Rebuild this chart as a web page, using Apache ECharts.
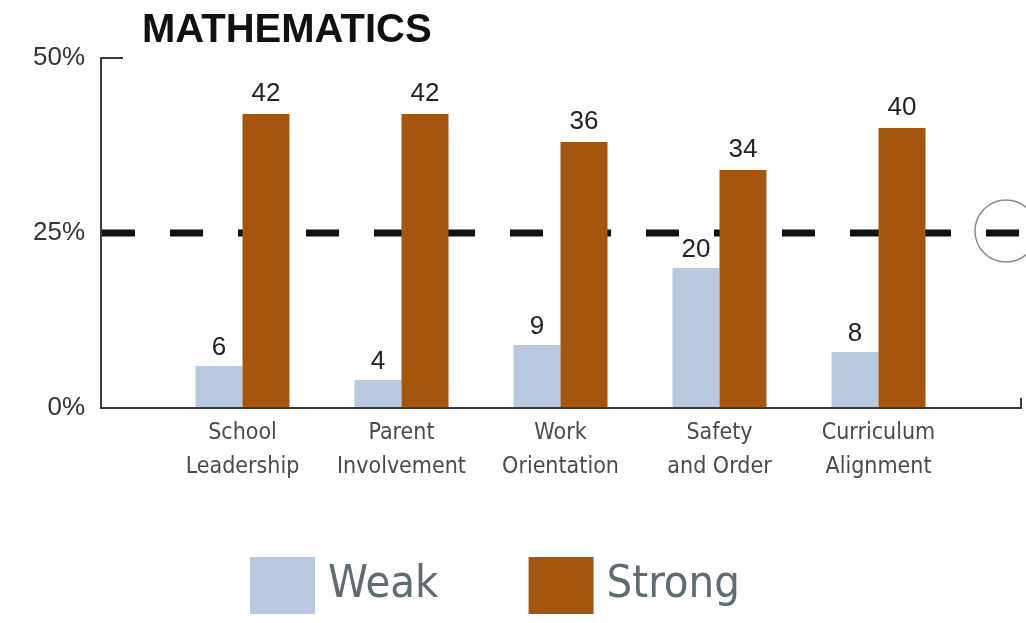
<!DOCTYPE html>
<html>
<head>
<meta charset="utf-8">
<script src="https://cdn.jsdelivr.net/npm/echarts@6/dist/echarts.min.js"></script>
<style>
  html, body { margin: 0; padding: 0; background: #fff; }
  #chart { width: 1026px; height: 623px; }
</style>
</head>
<body>
<div id="chart"></div>
<script>
// data
const categories = ['School\nLeadership', 'Parent\nInvolvement', 'Work\nOrientation', 'Safety\nand Order', 'Curriculum\nAlignment'];
const weakValues = [6, 4, 9, 20, 8];
const strongValues = [42, 42, 38, 34, 40];   // bar heights as drawn
const strongLabels = [42, 42, 36, 34, 40];   // numbers printed above
const yTicks = [0, 25, 50];
const benchmark = 25;

const narrow = "'Liberation Sans Narrow', 'DejaVu Sans Condensed', 'Liberation Sans', sans-serif";
const sans = "'Liberation Sans', Arial, sans-serif";

let myChart = echarts.init(document.getElementById('chart'));

let option = {
  animation: false,
  title: {
    text: 'MATHEMATICS',
    left: 137,
    top: 6,
    textStyle: { fontFamily: sans, fontWeight: 'bold', fontSize: 40, color: '#111' }
  },
  legend: {
    left: 245,
    top: 552,
    itemWidth: 65,
    itemHeight: 57,
    itemGap: 90,
    icon: 'rect',
    textStyle: { fontFamily: narrow, fontSize: 45, color: '#5f6c72', padding: [0, 0, 0, 8] },
    data: ['Weak', 'Strong']
  },
  grid: {
    left: 163,
    right: 68,
    top: 58,
    bottom: 215,
    containLabel: false
  },
  color: ['#b8c8de', '#a6550e'],
  xAxis: {
    type: 'category',
    data: categories,
    axisLine: { show: false },
    axisTick: { show: false },
    axisLabel: {
      interval: 0,
      margin: 8,
      fontFamily: narrow,
      fontSize: 23,
      lineHeight: 34,
      color: '#4a4a4a'
    }
  },
  yAxis: {
    type: 'value',
    min: 0,
    max: 50,
    interval: 25,
    offset: 62,
    splitLine: { show: false },
    axisLine: { show: true, lineStyle: { color: '#3a3a3a', width: 2 } },
    axisTick: { show: true, inside: true, length: 22, lineStyle: { color: '#3a3a3a', width: 2 } },
    axisLabel: {
      margin: 16,
      fontFamily: sans,
      fontSize: 26,
      color: '#333',
      formatter: function (v) { return yTicks.indexOf(v) >= 0 ? v + '%' : ''; }
    }
  },
  series: [
    {
      name: 'Weak',
      type: 'bar',
      barWidth: 47,
      barGap: '0%',
      z: 2,
      data: weakValues,
      label: {
        show: true,
        position: 'top',
        distance: 5,
        fontFamily: sans,
        fontSize: 26,
        color: '#222'
      }
    },
    {
      name: 'Strong',
      type: 'bar',
      barWidth: 47,
      z: 2,
      data: strongValues,
      label: {
        show: true,
        position: 'top',
        distance: 7,
        fontFamily: sans,
        fontSize: 26,
        color: '#222',
        formatter: function (p) { return strongLabels[p.dataIndex]; }
      }
    }
  ]
};

myChart.setOption(option);

// reference line and axis decorations, placed from the axis scale
let y0 = myChart.convertToPixel({ yAxisIndex: 0 }, 0);
let yRef = myChart.convertToPixel({ yAxisIndex: 0 }, benchmark);
let axisX = option.grid.left - option.yAxis.offset;

myChart.setOption({
  graphic: [
    {
      type: 'line',
      z: 1,
      shape: { x1: axisX + 1, y1: yRef, x2: 1026, y2: yRef },
      style: { stroke: '#111', lineWidth: 7, lineDash: [33, 35] }
    },
    {
      type: 'circle',
      z: 1,
      shape: { cx: 1006, cy: yRef - 2, r: 31 },
      style: { fill: 'none', stroke: '#8a8a8a', lineWidth: 1.5 }
    },
    {
      type: 'line',
      z: 5,
      shape: { x1: axisX - 1, y1: y0, x2: 1022, y2: y0 },
      style: { stroke: '#3a3a3a', lineWidth: 2 }
    },
    {
      type: 'line',
      z: 5,
      shape: { x1: 1021, y1: y0, x2: 1021, y2: y0 - 10 },
      style: { stroke: '#3a3a3a', lineWidth: 2 }
    }
  ]
});
</script>
</body>
</html>
